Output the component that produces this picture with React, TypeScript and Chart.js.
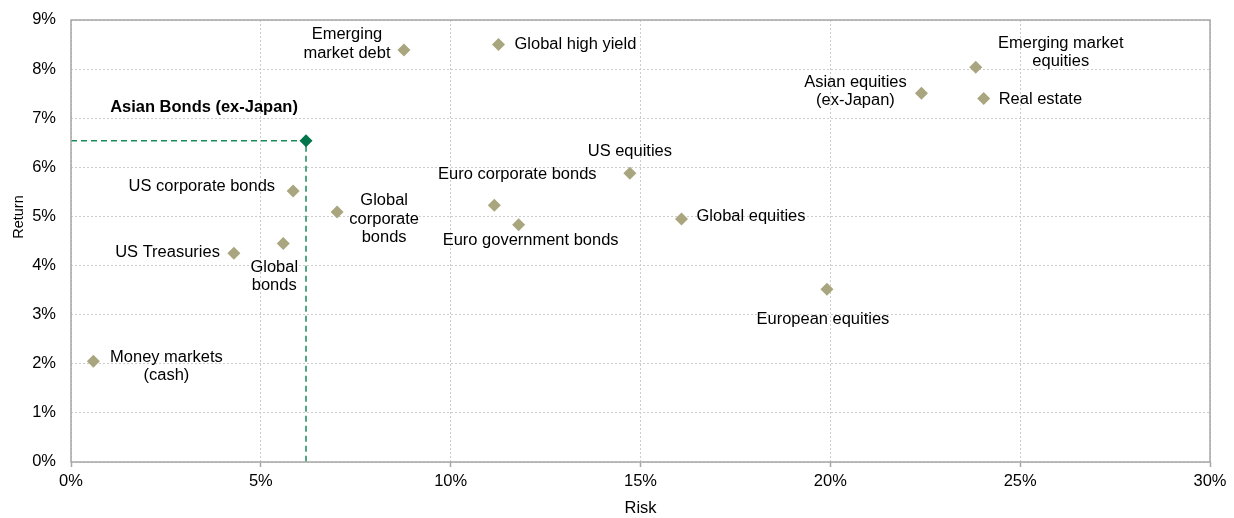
import React, { useEffect, useRef } from 'react';
import { Chart, registerables } from 'chart.js';

Chart.register(...registerables);

// ---- data ----
const assetNames = [
  'Money markets (cash)',
  'US Treasuries',
  'Global bonds',
  'US corporate bonds',
  'Global corporate bonds',
  'Emerging market debt',
  'Global high yield',
  'Euro corporate bonds',
  'Euro government bonds',
  'US equities',
  'Global equities',
  'European equities',
  'Asian equities (ex-Japan)',
  'Emerging market equities',
  'Real estate',
];
const riskValues = [0.59, 4.29, 5.59, 5.85, 7.01, 8.77, 11.26, 11.15, 11.79, 14.72, 16.08, 19.91, 22.4, 23.83, 24.04];
const returnValues = [2.05, 4.25, 4.45, 5.52, 5.09, 8.39, 8.5, 5.23, 4.83, 5.88, 4.95, 3.52, 7.51, 8.04, 7.4];

const highlightName = 'Asian Bonds (ex-Japan)';
const highlightRisk = 6.19;
const highlightReturn = 6.54;

const xTickValues = [0, 5, 10, 15, 20, 25, 30];
const yTickValues = [0, 1, 2, 3, 4, 5, 6, 7, 8, 9];
const xTitle = 'Risk';
const yTitle = 'Return';

// ---- label layout (style, not data) ----
type LabelStyle = { lines: string[]; dx: number; dy: number; align: CanvasTextAlign; bold?: boolean };
const labelLayout: Record<string, LabelStyle> = {
  'Money markets (cash)': { lines: ['Money markets', '(cash)'], dx: 73, dy: -4, align: 'center' },
  'US Treasuries': { lines: ['US Treasuries'], dx: -14, dy: -1, align: 'right' },
  'Global bonds': { lines: ['Global', 'bonds'], dx: -9, dy: 24, align: 'center' },
  'US corporate bonds': { lines: ['US corporate bonds'], dx: -18, dy: -4, align: 'right' },
  'Global corporate bonds': { lines: ['Global', 'corporate', 'bonds'], dx: 47, dy: -11, align: 'center' },
  'Emerging market debt': { lines: ['Emerging', 'market debt'], dx: -57, dy: -15, align: 'center' },
  'Global high yield': { lines: ['Global high yield'], dx: 16, dy: 0, align: 'left' },
  'Euro corporate bonds': { lines: ['Euro corporate bonds'], dx: 23, dy: -31, align: 'center' },
  'Euro government bonds': { lines: ['Euro government bonds'], dx: 12, dy: 16, align: 'center' },
  'US equities': { lines: ['US equities'], dx: 0, dy: -22, align: 'center' },
  'Global equities': { lines: ['Global equities'], dx: 15, dy: -2, align: 'left' },
  'European equities': { lines: ['European equities'], dx: -4, dy: 30, align: 'center' },
  'Asian equities (ex-Japan)': { lines: ['Asian equities', '(ex-Japan)'], dx: -66, dy: -11, align: 'center' },
  'Emerging market equities': { lines: ['Emerging market', 'equities'], dx: 85, dy: -24, align: 'center' },
  'Real estate': { lines: ['Real estate'], dx: 15, dy: 1, align: 'left' },
  'Asian Bonds (ex-Japan)': { lines: ['Asian Bonds (ex-Japan)'], dx: -102, dy: -33, align: 'center', bold: true },
};

const FONT_FAMILY = "'Liberation Sans', Arial, sans-serif";
const FONT_SIZE = 16;
const TEXT_STRETCH = 1.03;
const Y_TITLE_FONT_SIZE = 14.5;
const Y_TITLE_X = 19;
const Y_TITLE_Y = 217;
const LINE_GAP = 18.5;
const POINT_COLOR = '#a9a57e';
const HIGHLIGHT_COLOR = '#00764a';
const GUIDE_COLOR = '#1a8a5a';
const AXIS_COLOR = '#a6a6a6';
const GRID_COLOR = '#cccccc';

function patchContext(ctx: any) {
  if (ctx.__patched) return;
  ctx.__patched = true;
  ctx.__stretch = TEXT_STRETCH;
  const origFill = ctx.fillText.bind(ctx);
  const origMeasure = ctx.measureText.bind(ctx);
  ctx.fillText = (text: string, x: number, y: number, maxWidth?: number) => {
    const k = ctx.__stretch || 1;
    const m: DOMMatrix = ctx.getTransform();
    const p = m.transformPoint(new DOMPoint(x, y));
    ctx.save();
    const s = new DOMMatrix().translate(p.x, p.y).scale(k, 1).translate(-p.x, -p.y).multiply(m);
    ctx.setTransform(s);
    if (maxWidth === undefined) origFill(text, x, y);
    else origFill(text, x, y, maxWidth / k);
    ctx.restore();
  };
  ctx.measureText = (text: string) => {
    const k = ctx.__stretch || 1;
    const r = origMeasure(text);
    return {
      width: r.width * k,
      actualBoundingBoxAscent: r.actualBoundingBoxAscent,
      actualBoundingBoxDescent: r.actualBoundingBoxDescent,
      actualBoundingBoxLeft: r.actualBoundingBoxLeft * k,
      actualBoundingBoxRight: r.actualBoundingBoxRight * k,
      fontBoundingBoxAscent: r.fontBoundingBoxAscent,
      fontBoundingBoxDescent: r.fontBoundingBoxDescent,
    };
  };
}

const boxPlugin = {
  id: 'plotBox',
  afterDraw(chart: any) {
    const { ctx, chartArea } = chart;
    ctx.save();
    ctx.strokeStyle = AXIS_COLOR;
    ctx.lineWidth = 1.5;
    ctx.setLineDash([]);
    ctx.strokeRect(chartArea.left, chartArea.top, chartArea.right - chartArea.left, chartArea.bottom - chartArea.top);
    ctx.restore();
    // y-axis title (drawn here so it can sit where the reference puts it)
    ctx.save();
    ctx.__stretch = 1;
    ctx.translate(Y_TITLE_X, Y_TITLE_Y);
    ctx.rotate(-Math.PI / 2);
    ctx.font = `${Y_TITLE_FONT_SIZE}px ${FONT_FAMILY}`;
    ctx.fillStyle = '#000000';
    ctx.textAlign = 'center';
    ctx.textBaseline = 'middle';
    ctx.fillText(yTitle, 0, 0);
    ctx.restore();
    ctx.__stretch = TEXT_STRETCH;
  },
};

const labelPlugin = {
  id: 'pointLabels',
  afterDatasetsDraw(chart: any) {
    const { ctx } = chart;
    const xs = chart.scales.x;
    const ys = chart.scales.y;
    const draw = (name: string, rx: number, ry: number) => {
      const st = labelLayout[name];
      if (!st) return;
      const px = xs.getPixelForValue(rx);
      const py = ys.getPixelForValue(ry);
      ctx.save();
      ctx.font = `${st.bold ? 'bold ' : ''}${FONT_SIZE}px ${FONT_FAMILY}`;
      ctx.fillStyle = '#000000';
      ctx.textAlign = st.align;
      ctx.textBaseline = 'middle';
      st.lines.forEach((line, i) => {
        ctx.fillText(line, px + st.dx, py + st.dy + i * LINE_GAP);
      });
      ctx.restore();
    };
    assetNames.forEach((n, i) => draw(n, riskValues[i], returnValues[i]));
    draw(highlightName, highlightRisk, highlightReturn);
  },
};

export default function App() {
  const canvasRef = useRef<HTMLCanvasElement | null>(null);

  useEffect(() => {
    const canvas = canvasRef.current;
    if (!canvas) return;
    const ctx = canvas.getContext('2d');
    if (!ctx) return;
    patchContext(ctx);

    const chart = new Chart(ctx, {
      type: 'scatter',
      data: {
        datasets: [
          {
            label: highlightName,
            data: [{ x: highlightRisk, y: highlightReturn }],
            pointStyle: 'rectRot',
            pointRadius: 6.5,
            pointHoverRadius: 6.5,
            backgroundColor: HIGHLIGHT_COLOR,
            borderColor: HIGHLIGHT_COLOR,
            borderWidth: 0,
            order: 0,
          },
          {
            label: 'Assets',
            data: assetNames.map((_, i) => ({ x: riskValues[i], y: returnValues[i] })),
            pointStyle: 'rectRot',
            pointRadius: 6.5,
            pointHoverRadius: 6.5,
            backgroundColor: POINT_COLOR,
            borderColor: POINT_COLOR,
            borderWidth: 0,
            order: 1,
          },
          {
            type: 'line' as any,
            label: 'guide',
            data: [
              { x: 0, y: highlightReturn },
              { x: highlightRisk, y: highlightReturn },
              { x: highlightRisk, y: 0 },
            ],
            borderColor: GUIDE_COLOR,
            borderWidth: 1.5,
            borderDash: [6, 4],
            pointRadius: 0,
            fill: false,
            tension: 0,
            showLine: true,
            order: 2,
          } as any,
        ],
      },
      options: {
        animation: false,
        responsive: true,
        maintainAspectRatio: false,
        layout: { padding: { top: 20, right: 24, left: 0, bottom: 0 } },
        plugins: {
          legend: { display: false },
          tooltip: { enabled: false },
          title: { display: false },
        },
        scales: {
          x: {
            type: 'linear',
            min: 0,
            max: 30,
            afterBuildTicks: (scale: any) => {
              scale.ticks = xTickValues.map((v) => ({ value: v }));
            },
            afterFit: (scale: any) => {
              scale.height = 56;
              scale.paddingLeft = 0;
              scale.paddingRight = 0;
            },
            ticks: {
              color: '#000000',
              font: { family: FONT_FAMILY, size: FONT_SIZE },
              padding: 5,
              maxRotation: 0,
              autoSkip: false,
              callback: (v: any) => `${v}%`,
            },
            grid: {
              color: GRID_COLOR,
              lineWidth: 1,
              drawTicks: true,
              tickLength: 5,
              tickColor: AXIS_COLOR,
              tickWidth: 1.5,
              tickBorderDash: [],
            } as any,
            border: { display: false, dash: [2, 2] },
            title: {
              display: true,
              text: xTitle,
              color: '#000000',
              font: { family: FONT_FAMILY, size: FONT_SIZE },
              padding: { top: 0, bottom: 0 },
            },
          },
          y: {
            type: 'linear',
            min: 0,
            max: 9,
            afterBuildTicks: (scale: any) => {
              scale.ticks = yTickValues.map((v) => ({ value: v }));
            },
            afterFit: (scale: any) => {
              scale.width = 71;
              scale.paddingTop = 0;
              scale.paddingBottom = 0;
            },
            ticks: {
              color: '#000000',
              font: { family: FONT_FAMILY, size: FONT_SIZE },
              padding: 15,
              callback: (v: any) => `${v}%`,
            },
            grid: {
              color: GRID_COLOR,
              lineWidth: 1,
              drawTicks: false,
            },
            border: { display: false, dash: [2, 2] },
            title: { display: false, text: yTitle },
          },
        },
      },
      plugins: [labelPlugin, boxPlugin],
    });

    return () => {
      chart.destroy();
    };
  }, []);

  return (
    <div style={{ position: 'absolute', left: 0, top: 0, width: 1234, height: 518, background: '#ffffff' }}>
      <canvas ref={canvasRef} />
    </div>
  );
}
